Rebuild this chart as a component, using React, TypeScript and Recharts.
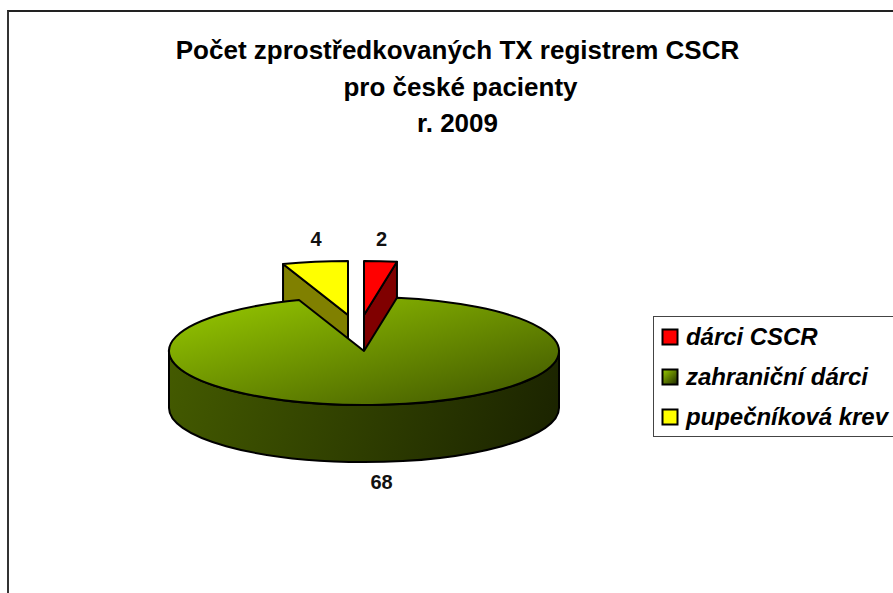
import React from 'react';
import { PieChart, Pie, Cell, Legend } from 'recharts';

const categories = ['dárci CSCR', 'zahraniční dárci', 'pupečníková krev'];
const values = [2, 68, 4];
const titleLines = ['Počet zprostředkovaných TX registrem CSCR', 'pro české pacienty', 'r. 2009'];

const data = categories.map((name, i) => ({ name, value: values[i] }));

const topFill = ['#ff0000', 'url(#greenTop)', '#ffff00'];
const sideFill = ['#800000', 'url(#greenSide)', '#808000'];
const legendFill = ['#ff0000', 'url(#greenSwatch)', '#ffff00'];

// the 3D look: squash the pie into an ellipse and extrude it downwards
const RX = 195;
const RY = 54;
const DEPTH = 57;
const explode = [
  { dx: 0, dy: -36 },
  { dx: 0, dy: 0 },
  { dx: -16, dy: -36 },
];

const rad = (a: number) => (a * Math.PI) / 180;
const px = (cx: number, a: number) => cx + RX * Math.cos(rad(a));
const py = (cy: number, a: number) => cy - RY * Math.sin(rad(a));

const wedgeShape = (visible: number[]) => (props: any) => {
  const { cx, cy, startAngle, endAngle, index } = props;
  if (!visible.includes(index)) return <g />;
  const off = explode[index];
  const x0 = cx + off.dx;
  const y0 = cy + off.dy;
  const ax = px(x0, startAngle);
  const ay = py(y0, startAngle);
  const bx = px(x0, endAngle);
  const by = py(y0, endAngle);
  const large = Math.abs(endAngle - startAngle) > 180 ? 1 : 0;
  const top = `M${x0},${y0} L${ax},${ay} A${RX},${RY} 0 ${large} 1 ${bx},${by} Z`;
  let side;
  if (index === 1) {
    // front rim of the big slice only
    const left = x0 - RX;
    const right = x0 + RX;
    side = `M${left},${y0} A${RX},${RY} 0 0 0 ${right},${y0} L${right},${y0 + DEPTH} A${RX},${RY} 0 0 1 ${left},${y0 + DEPTH} Z`;
  } else {
    // inner cut face, visible behind the green slice
    const e = index === 0 ? { x: bx, y: by } : { x: ax, y: ay };
    side = `M${x0},${y0} L${e.x},${e.y} L${e.x},${e.y + DEPTH} L${x0},${y0 + DEPTH} Z`;
  }
  return (
    <g>
      <path d={side} fill={sideFill[index]} stroke="#000" strokeWidth={2} strokeLinejoin="round" />
      <path d={top} fill={topFill[index]} stroke="#000" strokeWidth={2} strokeLinejoin="round" />
    </g>
  );
};

const renderLabel = (props: any) => {
  const { cx, cy, midAngle, index, value } = props;
  const off = explode[index];
  const x = px(cx + off.dx, midAngle) + 1;
  const y = index === 1 ? cy + RY + DEPTH + 20 : cy + off.dy - RY - 22;
  return (
    <text x={x} y={y} textAnchor="middle" dominantBaseline="central" fontSize={20} fontWeight="bold" fill="#111">
      {value}
    </text>
  );
};

const renderLegend = () => (
  <div style={{ width: 250, height: 121, border: '1px solid #444', boxSizing: 'border-box', background: '#fff' }}>
    {categories.map((name, i) => (
      <div key={name} style={{ height: 40, display: 'flex', alignItems: 'center', marginLeft: 7 }}>
        <svg width={18} height={18} style={{ marginRight: 7 }}>
          <rect x={1.5} y={1.5} width={15} height={15} fill={legendFill[i]} stroke="#000" strokeWidth={2} />
        </svg>
        <span style={{ fontSize: 24, fontWeight: 'bold', fontStyle: 'italic', whiteSpace: 'nowrap', letterSpacing: -0.05 }}>{name}</span>
      </div>
    ))}
  </div>
);

export default function App() {
  return (
    <div style={{ position: 'absolute', left: 0, top: 0, width: 893, height: 593, overflow: 'hidden', background: '#fff', fontFamily: '"Liberation Sans", Arial, sans-serif' }}>
      {/* chart frame, only the top and left edges fall inside the picture */}
      <div style={{ position: 'absolute', left: 7, top: 10, width: 900, height: 600, borderTop: '2px solid #222', borderLeft: '2px solid #333', boxSizing: 'border-box' }} />
      {titleLines.map((line, i) => (
        <div key={line} style={{ position: 'absolute', left: i === 1 ? 11 : 8, width: 899, top: i === 0 ? 34 : 35 + i * 36, textAlign: 'center', fontSize: 26, lineHeight: '32px', fontWeight: 'bold', color: '#000' }}>
          {line}
        </div>
      ))}
      <div style={{ position: 'absolute', left: 0, top: 0 }}>
        <PieChart width={893} height={593} margin={{ top: 0, right: 0, bottom: 0, left: 0 }}>
          <defs>
            <linearGradient id="greenTop" x1="0" y1="0" x2="1" y2="1">
              <stop offset="0" stopColor="#99cc00" />
              <stop offset="1" stopColor="#3d5200" />
            </linearGradient>
            <linearGradient id="greenSide" gradientUnits="userSpaceOnUse" x1="169" y1="351" x2="559" y2="462">
              <stop offset="0" stopColor="#445b00" />
              <stop offset="1" stopColor="#1a2200" />
            </linearGradient>
            <linearGradient id="greenSwatch" x1="0" y1="0" x2="1" y2="1">
              <stop offset="0" stopColor="#99cc00" />
              <stop offset="1" stopColor="#1f2900" />
            </linearGradient>
          </defs>
          {/* exploded slices first so the big slice sits in front of them */}
          <Pie
            data={data}
            dataKey="value"
            nameKey="name"
            cx={364}
            cy={351}
            outerRadius={195}
            startAngle={90}
            endAngle={-270}
            stroke="none"
            isAnimationActive={false}
            shape={wedgeShape([0, 2])}
            label={renderLabel}
            labelLine={false}
            legendType="square"
          >
            {data.map((d, i) => (
              <Cell key={d.name} fill={topFill[i]} />
            ))}
          </Pie>
          <Pie
            data={data}
            dataKey="value"
            cx={364}
            cy={351}
            outerRadius={195}
            startAngle={90}
            endAngle={-270}
            stroke="none"
            isAnimationActive={false}
            shape={wedgeShape([1])}
            legendType="none"
          />
          <Legend content={renderLegend} layout="vertical" align="right" verticalAlign="top" wrapperStyle={{ position: 'absolute', left: 653, top: 316, width: 250 }} />
        </PieChart>
      </div>
    </div>
  );
}
